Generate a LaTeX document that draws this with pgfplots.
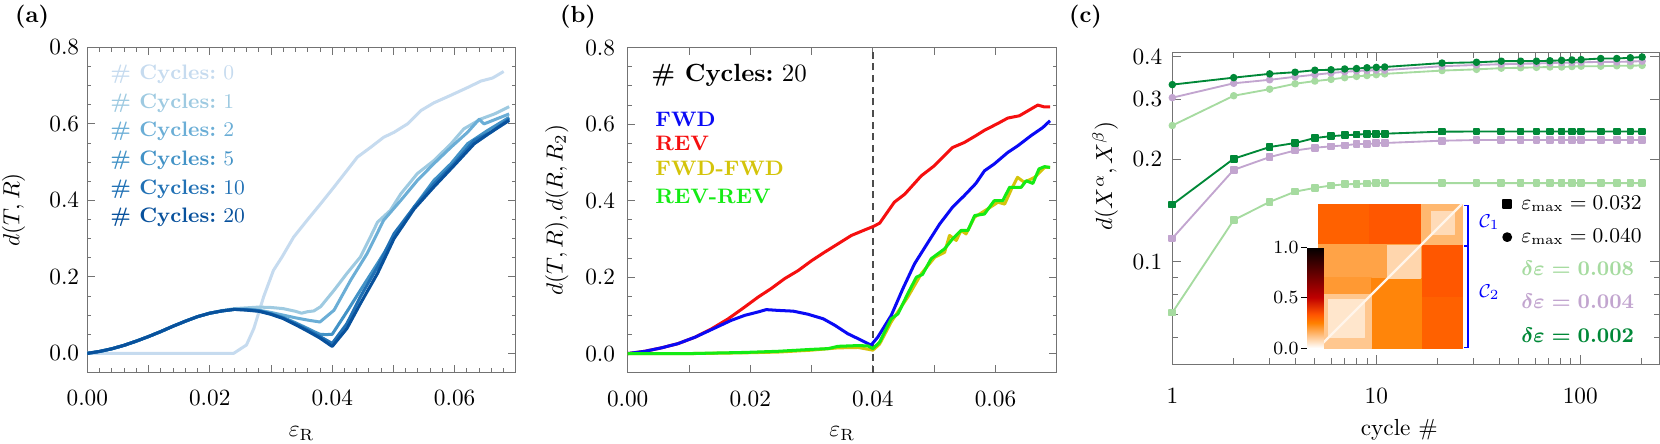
\documentclass[border=0pt]{standalone}
\usepackage{amsmath,amssymb}
\usepackage{xcolor}
\usepackage{pgfplots}
\pgfplotsset{compat=1.18}
\usepgfplotslibrary{patchplots}

\definecolor{bA}{HTML}{C6DBEF}
\definecolor{bB}{HTML}{9ECAE1}
\definecolor{bC}{HTML}{6BAED6}
\definecolor{bD}{HTML}{4292C6}
\definecolor{bE}{HTML}{2171B5}
\definecolor{bF}{HTML}{08519C}
\definecolor{fwd}{RGB}{10,10,245}
\definecolor{rev}{RGB}{245,15,15}
\definecolor{ff}{RGB}{212,196,10}
\definecolor{rr}{RGB}{20,235,20}
\definecolor{lg}{HTML}{A6DBA0}
\definecolor{pu}{HTML}{C2A5CF}
\definecolor{dg}{HTML}{008837}
\definecolor{diag}{rgb}{1,0.96,0.92}

\pgfplotsset{
  panel/.style={scale only axis, anchor=south west, scaled ticks=false,
    axis line style={black!55}, tick style={black!55, line width=0.4pt},
    major tick length=3.2pt, minor tick length=1.8pt, tick align=inside},
}

\begin{document}
\begin{tikzpicture}
\path[use as bounding box] (0,0) rectangle (713.8pt,190.49pt);

\node[font=\bfseries] at (13.76pt,183.4pt) {(a)};
\node[font=\bfseries] at (248.54pt,183.4pt) {(b)};
\node[font=\bfseries] at (466.77pt,183.4pt) {(c)};

% ---------------- (a)
\begin{axis}[panel, at={(37.54pt,30.32pt)}, width=184.3pt, height=139.8pt,
  xmin=0, xmax=0.07, ymin=-0.05, ymax=0.8,
  xtick={0,0.01,0.02,0.03,0.04,0.05,0.06,0.07},
  xticklabels={$0.00$,,$0.02$,,$0.04$,,$0.06$,},
  minor x tick num=4,
  ytick={0,0.2,0.4,0.6,0.8},
  yticklabels={$0.0$,$0.2$,$0.4$,$0.6$,\raisebox{-4pt}{$0.8$}},
  minor y tick num=3,
  xticklabel style={yshift=-4.4pt},
  xlabel={$\varepsilon_{\mathrm{R}}$}, ylabel={$d(T,R)$},
  xlabel style={at={(axis description cs:0.5,-0.197)}, anchor=base},
  ylabel style={at={(axis description cs:-0.172,0.5)}, anchor=center},
  every axis plot/.append style={line width=1.3pt, line join=round},
]
\addplot[bA] coordinates {
 (0,0) (0.010,0) (0.020,0) (0.0239,0) (0.026,0.022) (0.0272,0.065) (0.0288,0.148)
 (0.0304,0.217) (0.0318,0.252) (0.0337,0.304) (0.0359,0.348) (0.0381,0.391)
 (0.0403,0.435) (0.0424,0.478) (0.0441,0.513) (0.0463,0.539) (0.0484,0.565)
 (0.0501,0.578) (0.0523,0.600) (0.0545,0.635) (0.0566,0.655) (0.0594,0.675)
 (0.0621,0.695) (0.0643,0.712) (0.0662,0.720) (0.068,0.737)};
\addplot[bB] coordinates {
 (0,0) (0.002,0.005) (0.004,0.012) (0.006,0.021) (0.008,0.032) (0.010,0.044)
 (0.012,0.057) (0.014,0.071) (0.016,0.084) (0.018,0.096) (0.020,0.105)
 (0.022,0.112) (0.024,0.117) (0.026,0.119) (0.028,0.121) (0.030,0.120)
 (0.032,0.117) (0.034,0.110) (0.035,0.105) (0.036,0.109) (0.037,0.111)
 (0.0381,0.122) (0.0403,0.165) (0.0424,0.209) (0.0446,0.252) (0.0461,0.300)
 (0.0474,0.343) (0.0495,0.374) (0.0512,0.417) (0.0539,0.470) (0.0566,0.504)
 (0.0594,0.548) (0.0615,0.587) (0.0643,0.613) (0.0665,0.626) (0.0689,0.645)};
\addplot[bC] coordinates {
 (0,0) (0.002,0.005) (0.004,0.012) (0.006,0.021) (0.008,0.032) (0.010,0.044)
 (0.012,0.057) (0.014,0.071) (0.016,0.084) (0.018,0.096) (0.020,0.105)
 (0.022,0.111) (0.024,0.115) (0.026,0.116) (0.028,0.113) (0.030,0.107)
 (0.032,0.100) (0.034,0.093) (0.036,0.087) (0.038,0.082) (0.0403,0.113)
 (0.043,0.191) (0.0457,0.261) (0.0484,0.348) (0.0512,0.400) (0.0539,0.452)
 (0.0566,0.496) (0.0594,0.539) (0.0621,0.578) (0.064,0.612) (0.0648,0.600)
 (0.0689,0.626)};
\addplot[bD] coordinates {
 (0,0) (0.002,0.005) (0.004,0.012) (0.006,0.021) (0.008,0.032) (0.010,0.044)
 (0.012,0.057) (0.014,0.071) (0.016,0.084) (0.018,0.096) (0.020,0.105)
 (0.022,0.111) (0.024,0.115) (0.026,0.115) (0.028,0.112) (0.030,0.104)
 (0.032,0.094) (0.034,0.080) (0.036,0.065) (0.037,0.057) (0.038,0.050)
 (0.039,0.049) (0.040,0.050) (0.0424,0.109) (0.0446,0.165) (0.0474,0.235)
 (0.0501,0.304) (0.0534,0.383) (0.0566,0.452) (0.0594,0.496) (0.0621,0.548)
 (0.0654,0.583) (0.0689,0.617)};
\addplot[bE] coordinates {
 (0,0) (0.002,0.005) (0.004,0.012) (0.006,0.021) (0.008,0.032) (0.010,0.044)
 (0.012,0.057) (0.014,0.071) (0.016,0.084) (0.018,0.096) (0.020,0.105)
 (0.022,0.111) (0.024,0.115) (0.026,0.114) (0.028,0.111) (0.030,0.103)
 (0.032,0.092) (0.034,0.077) (0.036,0.061) (0.038,0.044) (0.040,0.026)
 (0.0424,0.078) (0.0446,0.148) (0.0474,0.226) (0.0501,0.313) (0.0534,0.383)
 (0.0566,0.443) (0.0599,0.496) (0.0632,0.557) (0.0659,0.578) (0.0689,0.613)};
\addplot[bF] coordinates {
 (0,0) (0.002,0.005) (0.004,0.012) (0.006,0.021) (0.008,0.032) (0.010,0.044)
 (0.012,0.057) (0.014,0.071) (0.016,0.084) (0.018,0.096) (0.020,0.105)
 (0.022,0.111) (0.024,0.115) (0.026,0.113) (0.028,0.110) (0.030,0.102)
 (0.032,0.091) (0.034,0.075) (0.036,0.058) (0.038,0.040) (0.040,0.018)
 (0.0424,0.065) (0.0446,0.130) (0.0474,0.209) (0.0501,0.300) (0.0534,0.378)
 (0.0566,0.435) (0.0599,0.491) (0.0632,0.548) (0.0659,0.578) (0.0689,0.609)};
\begin{scope}[every node/.style={anchor=west, inner sep=0pt, font=\small}]
\node[text=bA] at (axis cs:0.0037,0.729) {\textbf{\# Cycles:}~0};
\node[text=bB] at (axis cs:0.0037,0.655) {\textbf{\# Cycles:}~1};
\node[text=bC] at (axis cs:0.0037,0.580) {\textbf{\# Cycles:}~2};
\node[text=bD] at (axis cs:0.0037,0.504) {\textbf{\# Cycles:}~5};
\node[text=bE] at (axis cs:0.0037,0.430) {\textbf{\# Cycles:}~10};
\node[text=bF] at (axis cs:0.0037,0.355) {\textbf{\# Cycles:}~20};
\end{scope}
\end{axis}

% ---------------- (b)
\begin{axis}[panel, at={(269.91pt,30.23pt)}, width=184.5pt, height=139.75pt,
  xmin=0, xmax=0.07, ymin=-0.05, ymax=0.8,
  xtick={0,0.01,0.02,0.03,0.04,0.05,0.06,0.07},
  xticklabels={$0.00$,,$0.02$,,$0.04$,,$0.06$,},
  ytick={0,0.2,0.4,0.6,0.8},
  yticklabels={$0.0$,$0.2$,$0.4$,$0.6$,\raisebox{-4pt}{$0.8$}},
  minor y tick num=3,
  xticklabel style={yshift=-4.4pt}, yticklabel style={xshift=-1.9pt},
  xlabel={$\varepsilon_{\mathrm{R}}$}, ylabel={$d(T,R), d(R,R_2)$},
  xlabel style={at={(axis description cs:0.5,-0.197)}, anchor=base},
  ylabel style={at={(axis description cs:-0.1655,0.5)}, anchor=center},
  every axis plot/.append style={line width=1.3pt, line join=round},
]
\addplot[black!70, line width=0.6pt, dash pattern=on 3pt off 2pt] coordinates {(0.04,-0.05) (0.04,0.8)};
\addplot[rev] coordinates {
 (0,0) (0.0028,0.006) (0.0055,0.015) (0.0082,0.026) (0.011,0.043) (0.0137,0.065)
 (0.0164,0.091) (0.0191,0.122) (0.0213,0.148) (0.0234,0.170) (0.0256,0.196)
 (0.0278,0.217) (0.030,0.243) (0.0321,0.265) (0.0343,0.287) (0.0365,0.309)
 (0.0386,0.323) (0.040,0.332) (0.0411,0.341) (0.0435,0.396) (0.0452,0.417)
 (0.0479,0.465) (0.050,0.491) (0.053,0.539) (0.0549,0.552) (0.0568,0.570)
 (0.0582,0.584) (0.0604,0.602) (0.062,0.616) (0.0639,0.622) (0.0669,0.650)
 (0.068,0.645) (0.0689,0.645)};
\addplot[fwd] coordinates {
 (0,0) (0.0028,0.006) (0.0055,0.015) (0.0082,0.026) (0.011,0.043) (0.0137,0.063)
 (0.0169,0.087) (0.0191,0.100) (0.0213,0.109) (0.0226,0.115) (0.0245,0.113)
 (0.027,0.111) (0.0294,0.103) (0.0319,0.091) (0.0338,0.074) (0.0359,0.052)
 (0.0381,0.035) (0.0397,0.022) (0.0408,0.043) (0.043,0.100) (0.0449,0.170)
 (0.0468,0.235) (0.049,0.291) (0.0509,0.339) (0.053,0.383) (0.0549,0.413)
 (0.0568,0.445) (0.0582,0.478) (0.0598,0.496) (0.062,0.526) (0.0636,0.543)
 (0.0658,0.570) (0.0677,0.591) (0.0689,0.609)};
\addplot[ff] coordinates {
 (0,0) (0.010,0.0) (0.0191,0.002) (0.0245,0.004) (0.030,0.009) (0.0343,0.015)
 (0.0376,0.016) (0.040,0.009) (0.0411,0.025) (0.043,0.083) (0.0457,0.148)
 (0.0479,0.209) (0.0501,0.252) (0.0517,0.265) (0.0525,0.309) (0.0536,0.296)
 (0.0544,0.322) (0.0552,0.313) (0.0566,0.357) (0.0587,0.378) (0.0604,0.396)
 (0.0615,0.391) (0.0626,0.430) (0.0636,0.461) (0.0647,0.448) (0.0664,0.461)
 (0.068,0.487) (0.0689,0.487)};
\addplot[rr] coordinates {
 (0,0) (0.010,0.0) (0.0191,0.003) (0.0245,0.006) (0.030,0.011) (0.0327,0.013)
 (0.0343,0.019) (0.0376,0.021) (0.0392,0.020) (0.040,0.013) (0.0411,0.030)
 (0.043,0.091) (0.0441,0.104) (0.0457,0.157) (0.0471,0.200) (0.0481,0.207)
 (0.0495,0.248) (0.0517,0.274) (0.053,0.300) (0.0544,0.322) (0.0555,0.322)
 (0.0566,0.361) (0.0582,0.365) (0.0598,0.400) (0.0612,0.400) (0.0623,0.435)
 (0.0642,0.435) (0.065,0.452) (0.0661,0.445) (0.0671,0.483) (0.068,0.489)
 (0.0689,0.487)};
\begin{scope}[every node/.style={anchor=west, inner sep=0pt, font=\small\bfseries}]
\node[font=\fontsize{10.7}{13}\selectfont] at (axis cs:0.0038,0.729) {\textbf{\# Cycles:}~20};
\node[text=fwd] at (axis cs:0.00445,0.613) {FWD};
\node[text=rev] at (axis cs:0.00445,0.549) {REV};
\node[text=ff] at (axis cs:0.00445,0.484) {FWD-FWD};
\node[text=rr] at (axis cs:0.00445,0.411) {REV-REV};
\end{scope}
\end{axis}

% ---------------- (c)
\begin{axis}[panel, at={(504.09pt,33.97pt)}, width=209.4pt, height=133.9pt,
  xmode=log, ymode=log, xmin=1, xmax=244, ymin=0.05, ymax=0.411,
  xtick={1,10,100}, xticklabels={$1$,$10$,$100$},
  minor xtick={2,3,4,5,6,7,8,9,20,30,40,50,60,70,80,90,200},
  ytick={0.1,0.2,0.3,0.4}, yticklabels={$0.1$,$0.2$,$0.3$,$0.4$},
  minor ytick={0.05,0.06,0.07,0.08,0.09},
  major tick length=3.8pt, minor tick length=2.4pt,
  xticklabel style={yshift=-7.1pt}, yticklabel style={xshift=-0.8pt},
  xlabel={cycle \#}, ylabel={$d(X^{\alpha},X^{\beta})$},
  xlabel style={at={(axis description cs:0.466,-0.228)}, anchor=base},
  ylabel style={at={(axis description cs:-0.138,0.604)}, anchor=center},
  every axis plot/.append style={line width=0.8pt, line join=round},
  legend style={at={(axis description cs:0.971,0.565)}, anchor=north east,
    draw=none, fill=none, inner sep=0pt, font=\fontsize{9}{11}\selectfont,
    nodes={inner sep=1.35pt, text height=0.75em, text depth=0.3em},
    row sep=1.1pt, column sep=3pt},
  legend cell align=left,
]
\addplot[lg, mark=*, mark size=1.2pt, forget plot] coordinates {
 (1,0.251) (2,0.307) (3,0.321) (4,0.333) (5,0.339) (6,0.343) (7,0.347) (8,0.350)
 (9,0.352) (10,0.354) (11,0.356) (21,0.364) (31,0.367) (41,0.370) (51,0.371)
 (61,0.372) (71,0.373) (81,0.373) (91,0.374) (101,0.375) (126,0.375) (151,0.376)
 (176,0.376) (201,0.377)};
\addplot[pu, mark=*, mark size=1.2pt, forget plot] coordinates {
 (1,0.303) (2,0.334) (3,0.342) (4,0.349) (5,0.354) (6,0.358) (7,0.361) (8,0.363)
 (9,0.364) (10,0.365) (11,0.365) (21,0.375) (31,0.378) (41,0.380) (51,0.381)
 (61,0.382) (71,0.383) (81,0.384) (91,0.384) (101,0.385) (126,0.386) (151,0.386)
 (176,0.387) (201,0.388)};
\addplot[dg, mark=*, mark size=1.2pt, forget plot] coordinates {
 (1,0.331) (2,0.347) (3,0.356) (4,0.360) (5,0.365) (6,0.366) (7,0.368) (8,0.369)
 (9,0.371) (10,0.372) (11,0.373) (21,0.383) (31,0.385) (41,0.388) (51,0.388)
 (61,0.388) (71,0.389) (81,0.390) (91,0.391) (101,0.392) (126,0.395) (151,0.395)
 (176,0.397) (201,0.399)};
\addplot[lg, mark=square*, mark size=1.25pt, forget plot] coordinates {
 (1,0.0708) (2,0.1324) (3,0.1497) (4,0.1605) (5,0.1646) (6,0.1672) (7,0.1686)
 (8,0.169) (9,0.1695) (10,0.1699) (11,0.170) (21,0.170) (31,0.170) (41,0.170)
 (51,0.170) (61,0.170) (71,0.170) (81,0.170) (91,0.170) (101,0.170) (126,0.170)
 (151,0.170) (176,0.170) (201,0.170)};
\addplot[pu, mark=square*, mark size=1.25pt, forget plot] coordinates {
 (1,0.117) (2,0.186) (3,0.2027) (4,0.212) (5,0.216) (6,0.218) (7,0.2195)
 (8,0.2214) (9,0.2214) (10,0.2225) (11,0.223) (21,0.2265) (31,0.2275) (41,0.2275)
 (51,0.2275) (61,0.2275) (71,0.2275) (81,0.2275) (91,0.2275) (101,0.2275)
 (126,0.2275) (151,0.2275) (176,0.2275) (201,0.2275)};
\addplot[dg, mark=square*, mark size=1.25pt, forget plot] coordinates {
 (1,0.147) (2,0.2005) (3,0.217) (4,0.223) (5,0.2306) (6,0.2336) (7,0.235)
 (8,0.236) (9,0.237) (10,0.237) (11,0.2375) (21,0.2408) (31,0.241) (41,0.241)
 (51,0.241) (61,0.241) (71,0.241) (81,0.241) (91,0.241) (101,0.241) (126,0.241)
 (151,0.241) (176,0.241) (201,0.241)};
\addlegendimage{only marks, mark=square*, black, mark size=1.7pt}
\addlegendentry{$\varepsilon_{\mathrm{max}}=0.032$}
\addlegendimage{only marks, mark=*, black, mark size=1.7pt}
\addlegendentry{$\varepsilon_{\mathrm{max}}=0.040$}
\addlegendimage{empty legend}
\addlegendentry{\textcolor{lg}{\boldmath$\delta\varepsilon=0.008$}}
\addlegendimage{empty legend}
\addlegendentry{\textcolor{pu}{\boldmath$\delta\varepsilon=0.004$}}
\addlegendimage{empty legend}
\addlegendentry{\textcolor{dg}{\boldmath$\delta\varepsilon=0.002$}}
\end{axis}

% ---------------- inset heat map
\begin{axis}[at={(566.74pt,40.85pt)}, anchor=south west, scale only axis,
  width=61.9pt, height=61.9pt, xmin=0, xmax=50, ymin=0, ymax=50,
  hide axis, clip=false,
  colormap={heatr}{rgb=(1,1,1) rgb=(1,0.8333,0.6667) rgb=(1,0.6667,0.3333)
    rgb=(1,0.5,0) rgb=(1,0.3333,0) rgb=(0.875,0.1667,0) rgb=(0.75,0,0)
    rgb=(0.625,0,0) rgb=(0.5,0,0) rgb=(0.375,0,0) rgb=(0.25,0,0)
    rgb=(0.125,0,0) rgb=(0,0,0)},
  point meta min=0, point meta max=1,
  colorbar,
  colorbar style={at={(parent axis.south west)}, anchor=south east, xshift=-6pt,
    width=7.1pt, height=43.4pt, ytick={0,0.5,1},
    yticklabels={$0.0$,$0.5$,$1.0$}, yticklabel pos=left, ytick pos=left,
    tick align=outside, major tick length=2.6pt,
    tick style={black, line width=0.4pt}, axis line style={draw=none},
    yticklabel style={font=\footnotesize, inner sep=1pt}},
]
\addplot[patch, patch type=rectangle, shader=flat, point meta=explicit]
  table[meta=c] {
x y c
0 36 0.31
36 36 0.31
36 50 0.31
0 50 0.31
18 36 0.33
36 36 0.33
36 50 0.33
18 50 0.33
36 0 0.31
50 0 0.31
50 36 0.31
36 36 0.31
36 18 0.33
50 18 0.33
50 36 0.33
36 36 0.33
36 36 0.14
50 36 0.14
50 50 0.14
36 50 0.14
39.5 39.5 0.07
47.5 39.5 0.07
47.5 47.5 0.07
39.5 47.5 0.07
0 0 0.18
36 0 0.18
36 36 0.18
0 36 0.18
0 18.7 0.20
18.7 18.7 0.20
18.7 24.4 0.20
0 24.4 0.20
18.7 0 0.24
36 0 0.24
36 24.2 0.24
18.7 24.2 0.24
24.2 24.2 0.08
35.6 24.2 0.08
35.6 35.6 0.08
24.2 35.6 0.08
0 0 0.11
18.7 0 0.11
18.7 18.7 0.11
0 18.7 0.11
3.5 3.5 0.05
16 3.5 0.05
16 17 0.05
3.5 17 0.05
};
\addplot[diag, line width=1pt] coordinates {(0,0) (50,50)};
\draw[blue, line width=0.6pt] (axis cs:50.7,49.6) -- (axis cs:52.1,49.6)
  -- (axis cs:52.1,35.7) -- (axis cs:50.7,35.7);
\draw[blue, line width=0.6pt] (axis cs:50.7,35.3) -- (axis cs:52.1,35.3)
  -- (axis cs:52.1,0.1) -- (axis cs:50.7,0.1);
\node[blue, anchor=west, font=\footnotesize] at (axis cs:53.2,43.7) {$\mathcal{C}_1$};
\node[blue, anchor=west, font=\footnotesize] at (axis cs:53.2,19.4) {$\mathcal{C}_2$};
\end{axis}
\end{tikzpicture}
\end{document}
